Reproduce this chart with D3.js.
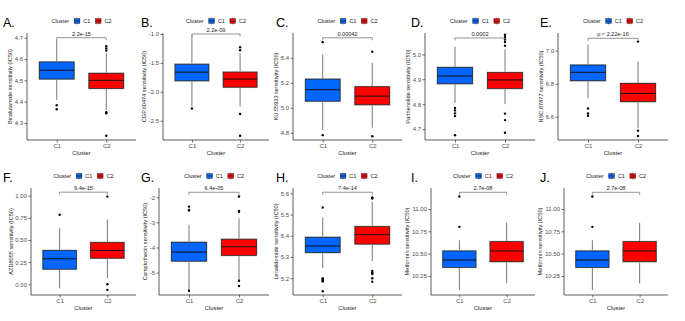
<!DOCTYPE html>
<html>
<head>
<meta charset="utf-8">
<script src="https://cdn.jsdelivr.net/npm/d3@7"></script>
<style>
  body { margin: 0; background: #fff; }
  svg { display: block; font-family: "Liberation Sans", Arial, sans-serif; }
</style>
</head>
<body>
<svg width="685" height="321"></svg>
<script>
// ---- data ----
const panelLetters = ["A.", "B.", "C.", "D.", "E.", "F.", "G.", "H.", "I.", "J."];
const drugNames = ["Bicalutamide", "CGP.60474", "KU.55933", "Parthenolide", "NSC.87877",
                   "AZD8055", "Camptothecin", "Lenalidomide", "Metformin", "Metformin"];
const groups = ["C1", "C2"];
const pLabels = ["2.2e-15", "2.2e-09", "0.00042", "0.0002", "p < 2.22e-16",
                 "9.4e-15", "6.4e-05", "7.4e-14", "2.7e-08", "2.7e-08"];

// [lower whisker, Q1, median, Q3, upper whisker]
const statsC1 = [
  [4.408, 4.506, 4.547, 4.586, 4.69],
  [-2.25, -1.81, -1.66, -1.523, -1.02],
  [4.82, 5.053, 5.144, 5.229, 5.427],
  [4.805, 4.882, 4.913, 4.948, 5.03],
  [6.711, 6.818, 6.869, 6.913, 7.038],
  [-0.044, 0.171, 0.288, 0.382, 0.634],
  [-5.69, -4.54, -4.18, -3.79, -3.10],
  [5.247, 5.321, 5.352, 5.393, 5.487],
  [10.093, 10.347, 10.429, 10.53, 10.65],
  [10.093, 10.347, 10.429, 10.53, 10.65]
];
const statsC2 = [
  [4.36, 4.462, 4.50, 4.533, 4.627],
  [-2.26, -1.92, -1.78, -1.66, -1.333],
  [4.84, 5.024, 5.093, 5.168, 5.36],
  [4.80, 4.863, 4.897, 4.927, 5.02],
  [6.53, 6.691, 6.741, 6.802, 6.933],
  [0.069, 0.295, 0.382, 0.472, 0.729],
  [-5.29, -4.31, -3.97, -3.67, -2.84],
  [5.28, 5.361, 5.405, 5.443, 5.56],
  [10.168, 10.41, 10.53, 10.634, 10.847],
  [10.168, 10.41, 10.53, 10.634, 10.847]
];
const outliersC1 = [
  [4.383, 4.364],
  [-2.29],
  [5.525, 4.781],
  [4.785, 4.775, 4.763, 4.752, 4.675],
  [6.65, 6.62, 6.606],
  [0.785],
  [-2.37, -2.50, -2.53, -5.72],
  [5.533, 5.20, 5.195, 5.19, 5.185, 5.139],
  [10.80, 11.14],
  [10.80, 11.14]
];
const outliersC2 = [
  [4.64, 4.65, 4.66, 4.35, 4.345, 4.24],
  [-1.23, -1.28, -2.385, -2.76],
  [5.448, 4.773],
  [5.079, 5.07, 5.06, 5.05, 5.035, 4.762, 4.736, 4.685],
  [7.055, 6.515, 6.483],
  [0.99, 0.001, -0.063],
  [-1.97, -2.54, -2.58, -5.32, -5.53],
  [5.58, 5.575, 5.234, 5.227, 5.22, 5.20, 5.184],
  [],
  []
];
const bracketValues = [4.70, -1.0, 5.56, 5.066, 7.075, 1.04, -1.80, 5.605, 11.187, 11.187];
const yLimits = [
  [4.22, 4.722], [-2.834, -0.983], [4.742, 5.598], [4.656, 5.086], [6.459, 7.107],
  [-0.121, 1.087], [-5.889, -1.63], [5.121, 5.625], [10.037, 11.235], [10.037, 11.235]
];
const yTicks = [
  [4.3, 4.4, 4.5, 4.6, 4.7], [-2.5, -2.0, -1.5, -1.0], [4.8, 5.0, 5.2, 5.4],
  [4.7, 4.8, 4.9, 5.0], [6.6, 6.8, 7.0], [0, 0.25, 0.5, 0.75, 1.0],
  [-5, -4, -3, -2], [5.2, 5.3, 5.4, 5.5, 5.6], [10.25, 10.5, 10.75, 11.0], [10.25, 10.5, 10.75, 11.0]
];
const tickFormats = [".1f", ".1f", ".1f", ".1f", ".1f", ".2f", "d", ".1f", ".2f", ".2f"];

// ---- layout ----
const svg = d3.select("svg");
const colors = d3.scaleOrdinal().domain(groups).range(["#0066FF", "#FF0000"]);
const locale = d3.formatLocale({ decimal: ".", thousands: ",", grouping: [3], currency: ["$", ""], minus: "-" });
const rowTop = [33, 188], rowBottom = [140, 295];
const plotLeft = [[27, 163, 293, 425, 558], [31, 159, 293, 431, 564]];
const letterX = [3, 141, 276, 411, 540];
const axisColor = "#333", textColor = "#4d4d4d";

panelLetters.forEach((letter, i) => {
  const row = Math.floor(i / 5), col = i % 5;
  const left = plotLeft[row][col], right = 136 + 133 * col;
  const top = rowTop[row], bottom = rowBottom[row];

  const g = svg.append("g");
  const x = d3.scalePoint().domain(groups).range([left, right]).padding(0.6);
  const y = d3.scaleLinear().domain(yLimits[i]).range([bottom, top]);
  const boxW = x.step() * 0.7;

  // panel letter
  g.append("text").attr("x", letterX[col]).attr("y", top - 6)
    .style("font-size", "12.5px").attr("fill", "#000").text(letter);

  // axes
  const yAxis = g.append("g").attr("transform", `translate(${left},0)`)
    .call(d3.axisLeft(y).tickValues(yTicks[i]).tickSize(2.5).tickPadding(1.5)
      .tickFormat(locale.format(tickFormats[i])));
  const xAxis = g.append("g").attr("transform", `translate(0,${bottom})`)
    .call(d3.axisBottom(x).tickSize(2.5).tickPadding(1.5));
  [yAxis, xAxis].forEach(a => {
    a.select(".domain").attr("stroke", axisColor).attr("stroke-width", 0.8);
    a.selectAll(".tick line").attr("stroke", axisColor).attr("stroke-width", 0.7);
    a.selectAll(".tick text").attr("fill", textColor).style("font-size", "6px")
      .style("font-family", "Liberation Sans, Arial, sans-serif");
  });
  yAxis.select(".domain").attr("d", `M0,${top}V${bottom}`);
  xAxis.select(".domain").attr("d", `M${left},0H${right}`);

  // axis titles
  g.append("text").attr("x", (left + right) / 2).attr("y", bottom + 15)
    .attr("text-anchor", "middle").style("font-size", "5.8px").attr("fill", "#222").text("Cluster");
  let maxW = 0;
  yAxis.selectAll(".tick text").each(function () { maxW = Math.max(maxW, this.getComputedTextLength()); });
  const titleX = left - 4 - maxW - 2.5;
  g.append("text")
    .attr("transform", `translate(${titleX},${(top + bottom) / 2}) rotate(-90)`)
    .attr("text-anchor", "middle").style("font-size", "5.6px").attr("fill", "#222")
    .text(`${drugNames[i]} sensitivity (IC50)`);

  // boxes
  const boxData = groups.map((grp, k) => ({
    grp, s: k === 0 ? statsC1[i] : statsC2[i], out: k === 0 ? outliersC1[i] : outliersC2[i]
  }));
  boxData.forEach(d => {
    const cx = x(d.grp);
    g.append("line").attr("x1", cx).attr("x2", cx).attr("y1", y(d.s[0])).attr("y2", y(d.s[1]))
      .attr("stroke", "#555").attr("stroke-width", 0.8);
    g.append("line").attr("x1", cx).attr("x2", cx).attr("y1", y(d.s[3])).attr("y2", y(d.s[4]))
      .attr("stroke", "#555").attr("stroke-width", 0.8);
    g.append("rect").attr("x", cx - boxW / 2).attr("y", y(d.s[3]))
      .attr("width", boxW).attr("height", y(d.s[1]) - y(d.s[3]))
      .attr("fill", colors(d.grp)).attr("stroke", "#b5b5b5").attr("stroke-width", 1.8);
    g.append("rect").attr("x", cx - boxW / 2).attr("y", y(d.s[3]))
      .attr("width", boxW).attr("height", y(d.s[1]) - y(d.s[3]))
      .attr("fill", colors(d.grp)).attr("stroke", "#222").attr("stroke-width", 0.7);
    g.append("line").attr("x1", cx - boxW / 2).attr("x2", cx + boxW / 2)
      .attr("y1", y(d.s[2])).attr("y2", y(d.s[2]))
      .attr("stroke", "#111").attr("stroke-width", 1);
    g.selectAll(null).data(d.out).enter().append("circle")
      .attr("cx", cx).attr("cy", v => y(v)).attr("r", 1.2).attr("fill", "#000");
  });

  // significance bracket
  const by = y(bracketValues[i]);
  g.append("path")
    .attr("d", `M${x("C1")},${by + 2.5}V${by}H${x("C2")}V${by + 2.5}`)
    .attr("fill", "none").attr("stroke", "#666").attr("stroke-width", 0.7);
  g.append("text").attr("x", (x("C1") + x("C2")) / 2).attr("y", by - 1.8)
    .attr("text-anchor", "middle").style("font-size", "5.6px").attr("fill", "#222").text(pLabels[i]);

  // legend
  const lg = g.append("g");
  lg.append("text").attr("x", 0).attr("y", 2).style("font-size", "5.6px").attr("fill", "#222").text("Cluster");
  let lx = lg.node().getBBox().width + 5;
  groups.forEach(grp => {
    const key = lg.append("g").attr("transform", `translate(${lx},0)`);
    key.append("line").attr("x1", 2.8).attr("x2", 2.8).attr("y1", -3.5).attr("y2", 3.5)
      .attr("stroke", "#555").attr("stroke-width", 0.6);
    key.append("rect").attr("x", 0).attr("y", -2.3).attr("width", 5.6).attr("height", 4.6)
      .attr("fill", colors(grp)).attr("stroke", "#222").attr("stroke-width", 0.5);
    key.append("line").attr("x1", 0).attr("x2", 5.6).attr("y1", 0).attr("y2", 0)
      .attr("stroke", "#111").attr("stroke-width", 0.6);
    const t = lg.append("text").attr("x", lx + 9).attr("y", 2).style("font-size", "5.6px")
      .attr("fill", "#222").text(grp);
    lx += 9 + t.node().getComputedTextLength() + 5;
  });
  const lw = lg.node().getBBox().width;
  lg.attr("transform", `translate(${(left + right) / 2 - lw / 2},${top - 12})`);
});
</script>
</body>
</html>
